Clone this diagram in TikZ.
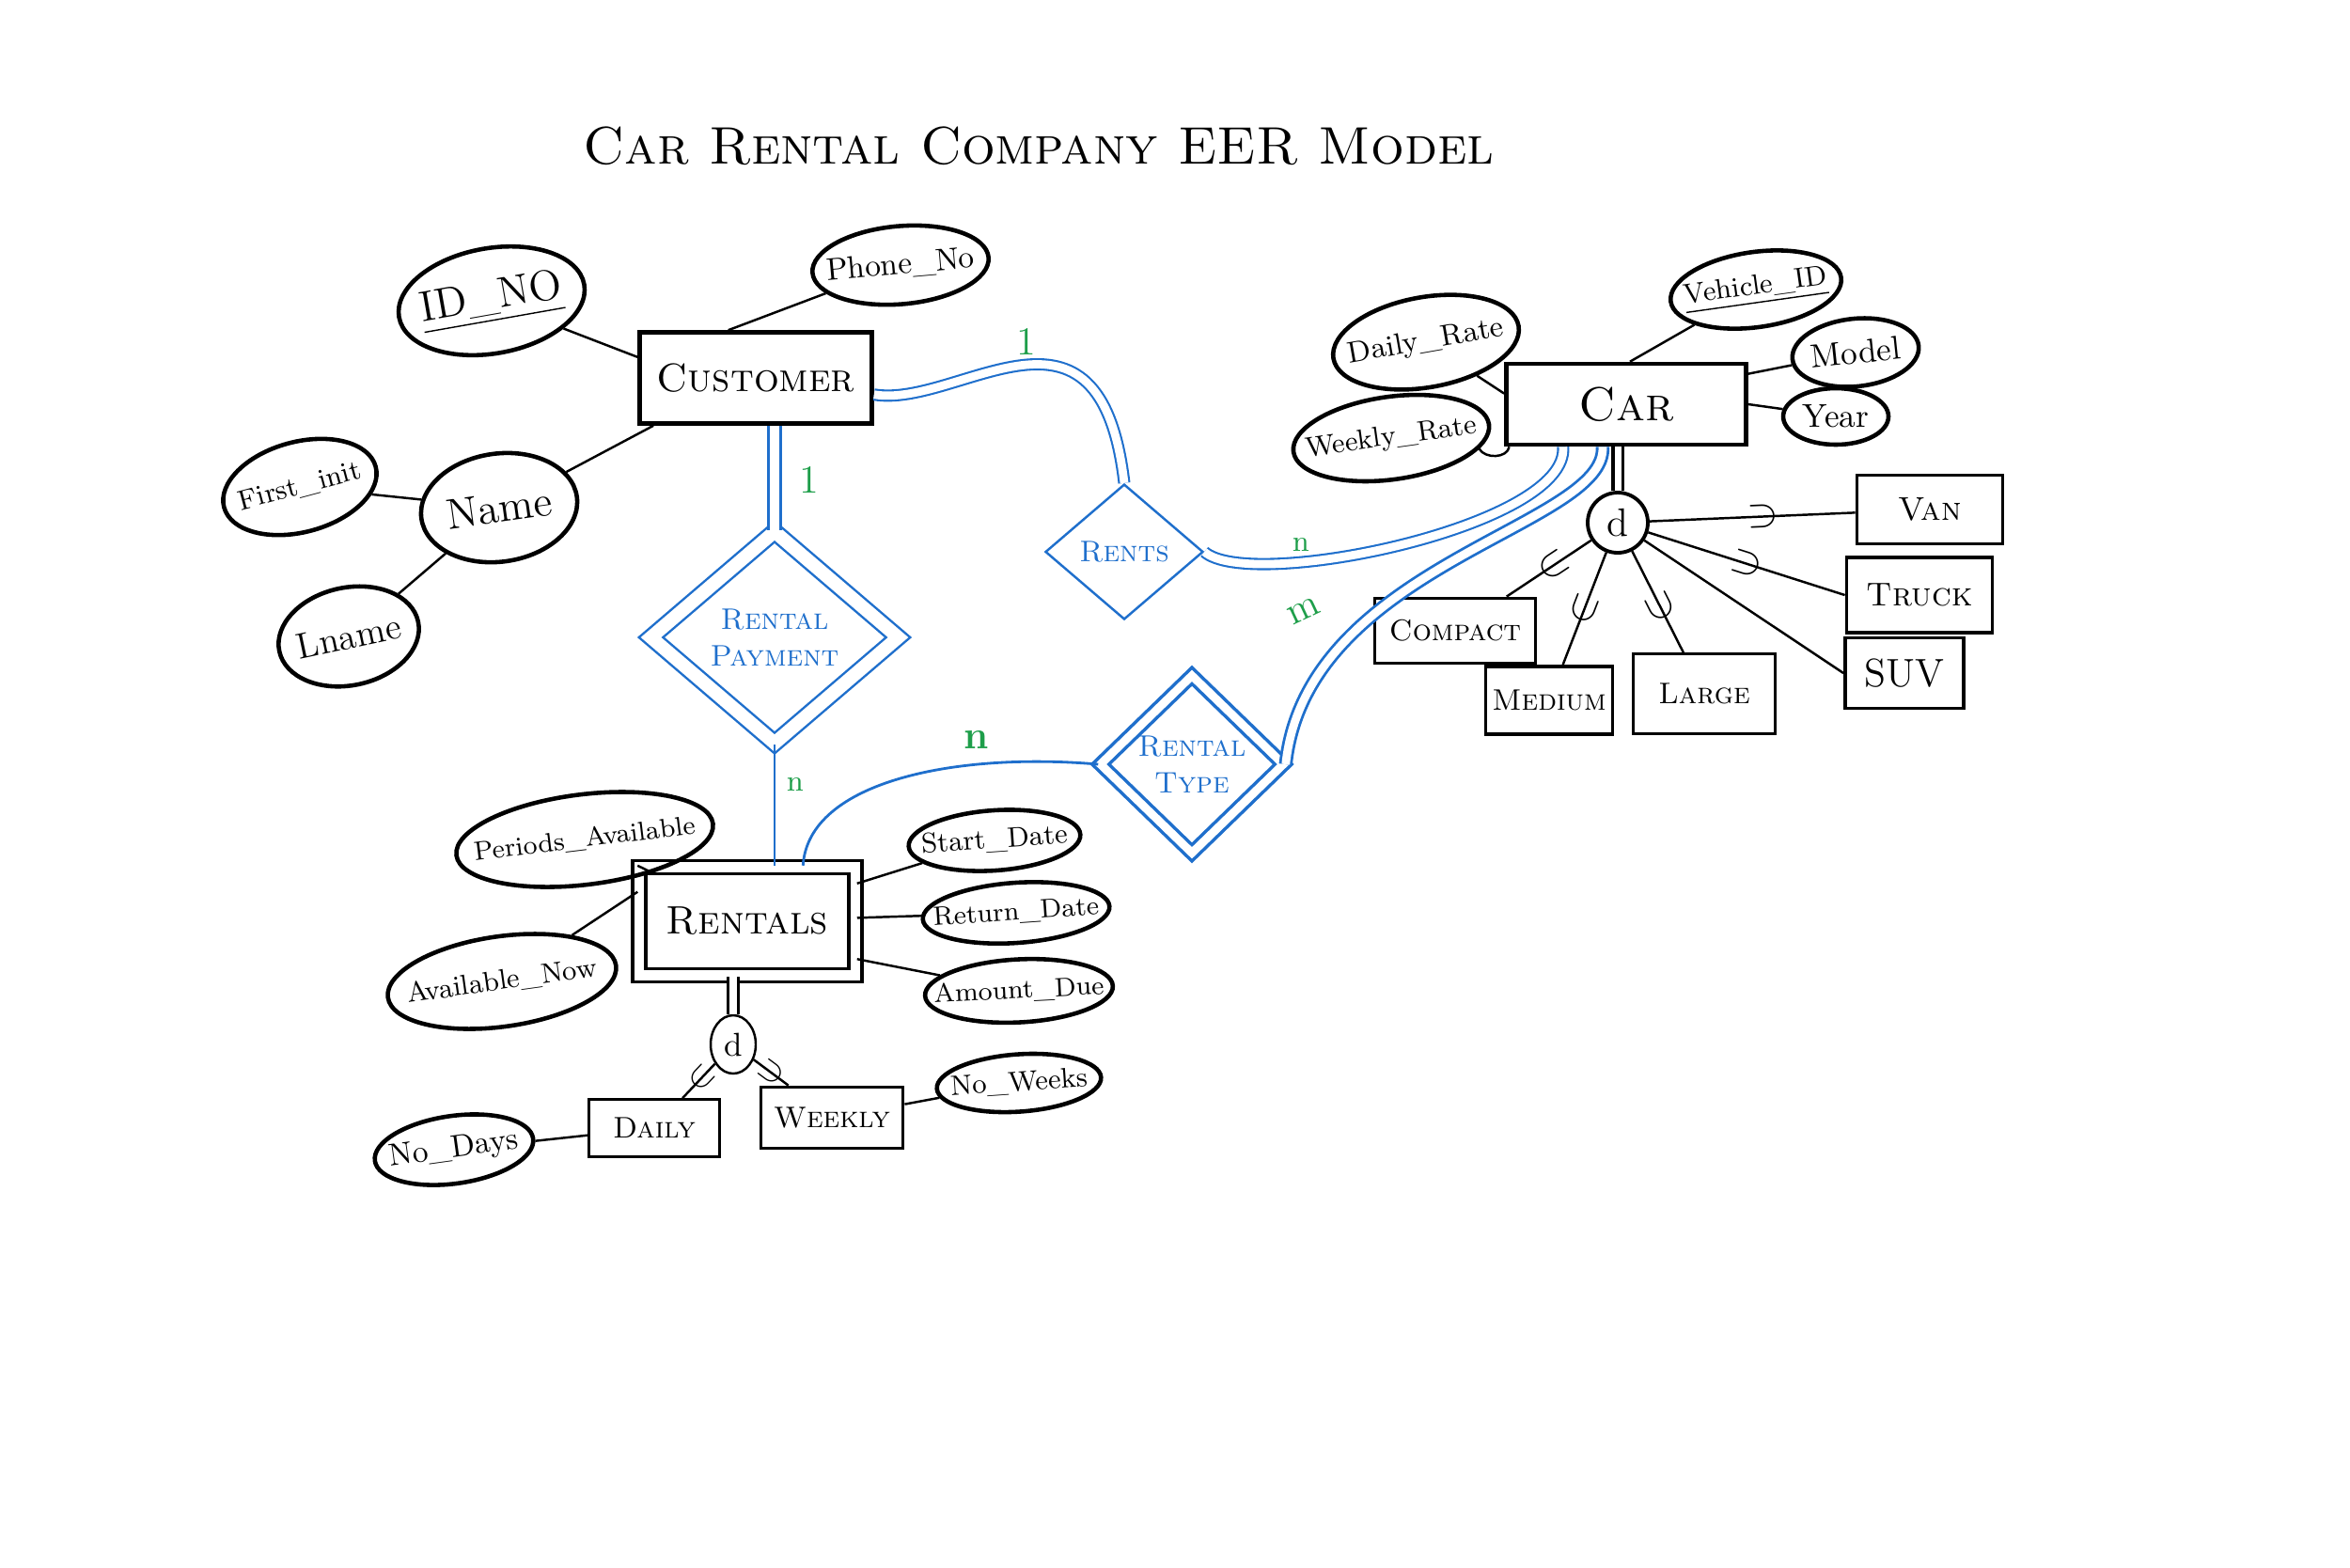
\documentclass[tikz,border=0pt]{standalone}
\usepackage{tikz}
\usetikzlibrary{calc, positioning, shapes.geometric}

\definecolor{penblue}{RGB}{31,111,204}
\definecolor{pengreen}{RGB}{30,158,74}
\newcommand{\ztext}[1]{\makebox[0pt]{#1}}

\begin{document}
\begin{tikzpicture}
	[
		entity/.style={
				rectangle,
				draw=black,
				line width=1.3pt,
				inner sep=2pt,
				font=\large,
			},
		attr/.style={
				ellipse,
				draw=black,
				line width=1.3pt,
				inner sep=0pt,
			},
		subbox/.style={
				rectangle,
				draw=black,
				line width=1.1pt,
				inner sep=1pt,
			},
		rel/.style={
				diamond,
				draw=penblue,
				text=penblue,
				line width=0.7pt,
				inner sep=0pt,
				align=center,
				font=\small,
			},
		weakrel/.style={rel, double, double distance=3.5pt},
		link/.style={line width=0.7pt},
		dlink/.style={draw=penblue, line width=0.6pt, double, double distance=2.5pt},
		blink/.style={draw=penblue, line width=0.8pt},
		card/.style={text=pengreen, font=\large},
		subset/.style={sloped, allow upside down, font=\large, inner sep=0pt},
	]
	\useasboundingbox (0,0) rectangle (25,-16.67);

	\node (title) at (11.05,-1.55) {\fontsize{16}{19}\selectfont\textsc{Car Rental Company EER Model}};

	\node[entity, minimum width=2.47cm, minimum height=0.97cm] (cust) at (8.04,-4.02) {\textsc{Customer}};
	\node[attr, minimum width=2.0cm, minimum height=1.12cm, rotate=10, font=\fontsize{13}{15}\selectfont] (idno) at (5.23,-3.20) {\ztext{\underline{ID\_NO}}};
	\node[attr, minimum width=1.88cm, minimum height=0.83cm, rotate=5, font=\fontsize{9.5}{11}\selectfont] (phone) at (9.58,-2.82) {\ztext{Phone\_No}};
	\node[attr, minimum width=1.67cm, minimum height=1.15cm, rotate=8, font=\fontsize{13}{15}\selectfont] (name) at (5.31,-5.40) {\ztext{Name}};
	\node[attr, minimum width=1.67cm, minimum height=0.96cm, rotate=15, font=\fontsize{8.5}{10}\selectfont] (first) at (3.19,-5.18) {\ztext{First\_init}};
	\node[attr, minimum width=1.51cm, minimum height=1.04cm, rotate=12, font=\fontsize{11}{13}\selectfont] (lname) at (3.71,-6.77) {\ztext{Lname}};

	\node[weakrel, minimum width=2.64cm, minimum height=2.26cm, double distance=4pt] (rp) at (8.24,-6.78) {\textsc{Rental}\\\textsc{Payment}};
	\node[rel, minimum width=1.68cm, minimum height=1.44cm] (rents) at (11.96,-5.87) {\textsc{Rents}};
	\node[weakrel, minimum width=1.96cm, minimum height=1.90cm, line width=1pt, double distance=2.5pt] (rt) at (12.68,-8.13) {\textsc{Rental}\\\textsc{Type}};

	\node[entity, double, double distance=3pt, line width=1pt, minimum width=2.3cm, minimum height=1.15cm] (rentals) at (7.95,-9.80) {\textsc{Rentals}};
	\node[attr, minimum width=2.75cm, minimum height=0.96cm, rotate=7, font=\fontsize{8}{10}\selectfont] (periods) at (6.22,-8.93) {\ztext{Periods\_Available}};
	\node[attr, minimum width=2.45cm, minimum height=0.96cm, rotate=8, font=\fontsize{8.5}{10}\selectfont] (availnow) at (5.34,-10.44) {\ztext{Available\_Now}};
	\node[attr, minimum width=1.83cm, minimum height=0.64cm, rotate=4, font=\fontsize{8.5}{10}\selectfont] (start) at (10.58,-8.94) {\ztext{Start\_Date}};
	\node[attr, minimum width=1.99cm, minimum height=0.64cm, rotate=4, font=\fontsize{8}{10}\selectfont] (retdate) at (10.81,-9.71) {\ztext{Return\_Date}};
	\node[attr, minimum width=2.0cm, minimum height=0.67cm, rotate=3, font=\fontsize{8}{10}\selectfont] (amount) at (10.84,-10.54) {\ztext{Amount\_Due}};

	\node[ellipse, draw, line width=0.7pt, minimum width=0.48cm, minimum height=0.62cm, inner sep=0pt] (drent) at (7.80,-11.11) {d};
	\node[subbox, minimum width=1.39cm, minimum height=0.61cm, line width=0.8pt, font=\small] (daily) at (6.96,-12.00) {\textsc{Daily}};
	\node[subbox, minimum width=1.51cm, minimum height=0.65cm, font=\small] (weekly) at (8.85,-11.89) {\textsc{Weekly}};
	\node[attr, minimum width=1.7cm, minimum height=0.72cm, rotate=8, font=\fontsize{9.5}{11}\selectfont] (nodays) at (4.83,-12.23) {\ztext{No\_Days}};
	\node[attr, minimum width=1.75cm, minimum height=0.61cm, rotate=4, font=\fontsize{8.5}{10}\selectfont] (noweeks) at (10.84,-11.52) {\ztext{No\_Weeks}};

	\node[entity, minimum width=2.55cm, minimum height=0.86cm, font=\Large] (car) at (17.30,-4.30) {\textsc{Car}};
	\node[attr, minimum width=2.0cm, minimum height=0.96cm, rotate=10, font=\fontsize{9}{11}\selectfont] (drate) at (15.17,-3.64) {\ztext{Daily\_Rate}};
	\node[attr, minimum width=2.1cm, minimum height=0.88cm, rotate=8, font=\fontsize{8.5}{10}\selectfont] (wrate) at (14.80,-4.66) {\ztext{Weekly\_Rate}};
	\node[attr, minimum width=1.83cm, minimum height=0.80cm, rotate=8, font=\fontsize{8.5}{10}\selectfont] (vid) at (18.68,-3.08) {\ztext{\underline{Vehicle\_ID}}};
	\node[attr, minimum width=1.35cm, minimum height=0.72cm, rotate=6] (model) at (19.74,-3.75) {\ztext{Model}};
	\node[attr, minimum width=1.12cm, minimum height=0.60cm] (year) at (19.53,-4.43) {\ztext{Year}};

	\node[circle, draw, line width=1.1pt, minimum size=0.64cm, inner sep=0pt, font=\large] (dcar) at (17.21,-5.56) {d};
	\node[subbox, minimum width=1.55cm, minimum height=0.73cm] (van) at (20.53,-5.42) {\textsc{Van}};
	\node[subbox, minimum width=1.55cm, minimum height=0.80cm] (truck) at (20.42,-6.33) {\textsc{Truck}};
	\node[subbox, minimum width=1.26cm, minimum height=0.75cm, font=\large] (suv) at (20.26,-7.16) {SUV};
	\node[subbox, minimum width=1.71cm, minimum height=0.69cm, font=\small] (compact) at (15.48,-6.71) {\textsc{Compact}};
	\node[subbox, minimum width=1.35cm, minimum height=0.72cm, font=\small] (medium) at (16.48,-7.45) {\textsc{Medium}};
	\node[subbox, minimum width=1.51cm, minimum height=0.85cm, line width=0.8pt, font=\small] (large) at (18.13,-7.38) {\textsc{Large}};

	\draw[link] (idno) -- (cust.170);
	\draw[link] (phone) -- (cust.120);
	\draw[link] (name) -- (cust.205);
	\draw[link] (name) -- (first);
	\draw[link] (name) -- (lname);

	\draw[link] (periods) -- (rentals.north west);
	\draw[link] (availnow) -- (rentals.165);
	\draw[link] (start) -- (rentals.19);
	\draw[link] (retdate) -- (rentals);
	\draw[link] (amount) -- (rentals.341);
	\draw[link] (nodays) -- (daily);
	\draw[link] (noweeks) -- (weekly);

	\draw[link] (drate) -- (car.175);
	\draw[link] (wrate.-15) to[out=-60, in=-100] (car.200);
	\draw[link] (vid) -- (car.85);
	\draw[link] (model) -- (car.14);
	\draw[link] (year) -- (car.east);

	\draw[link, double, double distance=2pt, line width=1.1pt] (car.south -| dcar.north) -- (dcar.north);
	\draw[link, double, double distance=2pt, line width=1.1pt] (rentals.south -| drent.north) -- (drent.north);

	\draw[link] (dcar) -- node[subset, pos=0.55] (s1) {$\supset$} (van);
	\draw[link] (dcar) -- node[subset, pos=0.5] (s2) {$\supset$} (truck.west);
	\draw[link] (dcar) -- (suv.west);
	\draw[link] (dcar) -- node[subset, pos=0.45] (s3) {$\supset$} (compact);
	\draw[link] (dcar) -- node[subset, pos=0.5] (s4) {$\supset$} (medium);
	\draw[link] (dcar) -- node[subset, pos=0.55] (s5) {$\supset$} (large);
	\draw[link] (drent) -- node[subset, pos=0.4, font=\normalsize] (s6) {$\supset$} (daily);
	\draw[link] (drent) -- node[subset, pos=0.5, font=\normalsize] (s7) {$\supset$} (weekly);

	\draw[dlink] (cust.352) .. controls (10.2,-4.35) and (11.7,-2.9) .. (rents.north);
	\draw[dlink, line width=0.9pt, double distance=3pt] (cust.south -| rp.north) -- (rp.north);
	\draw[blink] (rp.south) -- (rp.south |- rentals.north);
	\draw[blink] (rentals.45) .. controls (8.6,-8.3) and (10.2,-8.0) .. (rt.west);
	\draw[dlink] (rents.east) .. controls (13.3,-6.3) and (16.7,-5.6) .. (car.214);
	\draw[dlink, line width=0.8pt] (rt.east) .. controls (13.9,-6.0) and (17.1,-5.6) .. (car.241);

	\begin{scope}[font=\sffamily]
		\node[card] (c1) at (8.61,-5.10) {1};
		\node[card, font=\small] (c2) at (8.46,-8.34) {n};
		\node[card] (c3) at (10.92,-3.63) {1};
		\node[card, font=\small] (c4) at (13.84,-5.79) {n};
		\node[card, rotate=25] (c5) at (13.87,-6.50) {m};
		\node[card, font=\large\bfseries] (c6) at (10.39,-7.87) {n};
	\end{scope}
\end{tikzpicture}
\end{document}
